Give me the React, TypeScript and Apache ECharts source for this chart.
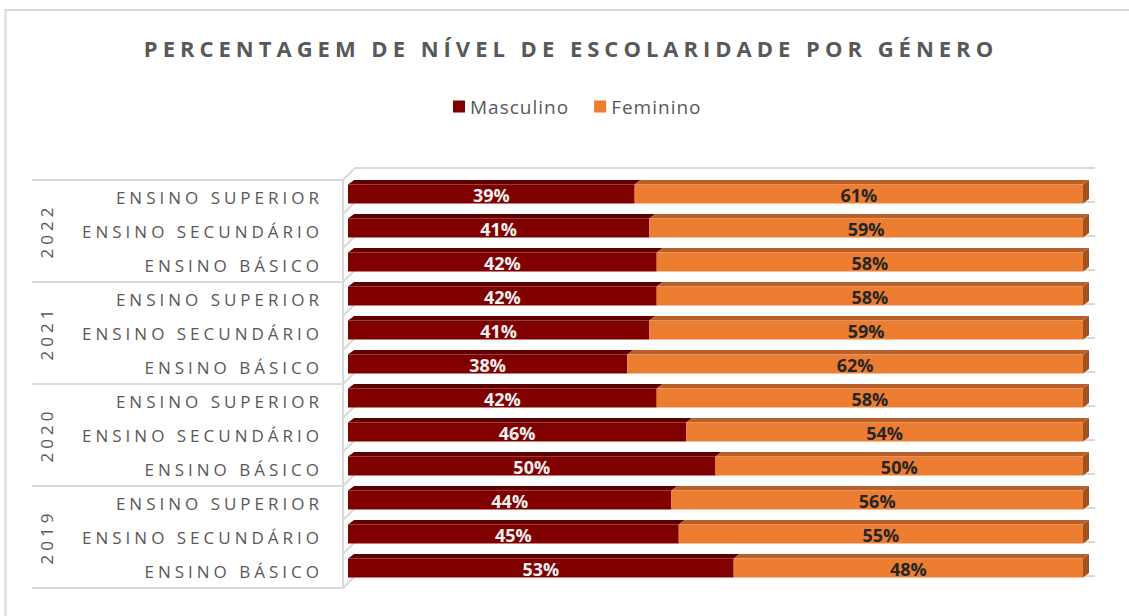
import React, { useEffect, useRef } from 'react';
import * as echarts from 'echarts';

const titleText = 'PERCENTAGEM DE NÍVEL DE ESCOLARIDADE POR GÉNERO';
const years = ['2022', '2021', '2020', '2019'];
const levels = ['ENSINO SUPERIOR', 'ENSINO SECUNDÁRIO', 'ENSINO BÁSICO'];
const seriesNames = ['Masculino', 'Feminino'];
const masculino = [39, 41, 42, 42, 41, 38, 42, 46, 50, 44, 45, 53];
const feminino = [61, 59, 58, 58, 59, 62, 58, 54, 50, 56, 55, 48];

const categories = years.flatMap((y) => levels.map((l) => `${y} ${l}`));

const FONT = "'Open Sans', 'Noto Sans', sans-serif";
const GRID = '#d9d9d9';
const TEXT = '#595959';

const css = `
#chart-root text[style*="17px"] { letter-spacing: 4px; }
#chart-root text[style*="22px"] { letter-spacing: 5px; }
#chart-root text[style*="19px"] { letter-spacing: 1px; }
`;

function makeBarRender(front: string, top: string, side: string, labelColor: string, withSide: boolean) {
  return (_params: any, api: any) => {
    const start = api.value(0);
    const cat = api.value(1);
    const end = api.value(2);
    const raw = api.value(3);
    const p0 = api.coord([start, cat]);
    const p1 = api.coord([end, cat]);
    const band = api.size([0, 1])[1];
    const bandTop = p0[1] - band / 2;
    const ft = bandTop + band * 0.13;
    const h = band * 0.56;
    const dx = 6;
    const dy = 4.5;
    const x0 = p0[0];
    const x1 = p1[0];
    const children: any[] = [
      {
        type: 'polygon',
        shape: { points: [[x0, ft], [x1, ft], [x1 + dx, ft - dy], [x0 + dx, ft - dy]] },
        style: { fill: top },
      },
      { type: 'rect', shape: { x: x0, y: ft, width: x1 - x0, height: h }, style: { fill: front } },
    ];
    if (withSide) {
      children.push({
        type: 'polygon',
        shape: { points: [[x1, ft], [x1 + dx, ft - dy], [x1 + dx, ft + h - dy], [x1, ft + h]] },
        style: { fill: side },
      });
    }
    children.push({
      type: 'text',
      x: (x0 + x1) / 2,
      y: ft + h / 2 + 1,
      style: {
        text: `${raw}%`,
        fill: labelColor,
        fontSize: 18,
        fontWeight: 'bold',
        fontFamily: FONT,
        align: 'center',
        verticalAlign: 'middle',
        textAlign: 'center',
        textVerticalAlign: 'middle',
      },
    });
    return { type: 'group', children };
  };
}

function frameRender(_params: any, api: any) {
  const i = api.value(1);
  const p = api.coord([0, i]);
  const right = api.coord([100, i])[0];
  const band = api.size([0, 1])[1];
  const left = p[0];
  const top = p[1] - band / 2;
  const bottom = p[1] + band / 2;
  const axX = left - 5;
  const d = 12;
  const ls = { stroke: GRID, lineWidth: 2, fill: null };
  const ch: any[] = [];
  const boundary = (y: number) => {
    ch.push({ type: 'line', shape: { x1: axX, y1: y, x2: axX + d, y2: y - d }, style: ls });
    ch.push({ type: 'line', shape: { x1: axX + d, y1: y - d, x2: right + 12, y2: y - d }, style: ls });
  };
  boundary(top);
  if (i === categories.length - 1) boundary(bottom);
  ch.push({ type: 'line', shape: { x1: axX, y1: top, x2: axX, y2: bottom }, style: ls });
  if (i % levels.length === 0) {
    ch.push({ type: 'line', shape: { x1: left - 316, y1: top, x2: axX, y2: top }, style: ls });
  }
  if (i === categories.length - 1) {
    ch.push({ type: 'line', shape: { x1: left - 316, y1: bottom, x2: axX, y2: bottom }, style: ls });
  }
  if (i % levels.length === 1) {
    ch.push({
      type: 'text',
      x: left - 302,
      y: p[1],
      rotation: Math.PI / 2,
      style: {
        text: years[Math.floor(i / levels.length)],
        fill: TEXT,
        fontSize: 17,
        fontFamily: FONT,
        align: 'center',
        verticalAlign: 'middle',
        textAlign: 'center',
        textVerticalAlign: 'middle',
      },
    });
  }
  return { type: 'group', children: ch };
}

export default function App() {
  const ref = useRef<HTMLDivElement>(null);
  useEffect(() => {
    if (!ref.current) return;
    const chart = echarts.init(ref.current, undefined, { renderer: 'svg' });
    const mascData = masculino.map((m, i) => {
      const pct = (m / (m + feminino[i])) * 100;
      return [0, i, pct, m];
    });
    const femData = feminino.map((f, i) => {
      const pct = (masculino[i] / (masculino[i] + f)) * 100;
      return [pct, i, 100, f];
    });
    chart.setOption({
      animation: false,
      backgroundColor: '#ffffff',
      textStyle: { fontFamily: FONT },
      graphic: [
        {
          type: 'rect',
          shape: { x: 5.5, y: 10, width: 1200, height: 700 },
          style: { fill: null, stroke: GRID, lineWidth: 2 },
          silent: true,
        },
        {
          type: 'text',
          x: 571,
          y: 48,
          style: {
            text: titleText,
            fill: TEXT,
            fontSize: 22,
            fontWeight: 'bold',
            fontFamily: FONT,
            align: 'center',
            verticalAlign: 'middle',
            textAlign: 'center',
            textVerticalAlign: 'middle',
          },
        },
      ],
      legend: {
        data: seriesNames,
        left: 448,
        top: 92,
        icon: 'rect',
        itemWidth: 12,
        itemHeight: 12,
        itemGap: 34,
        textStyle: { fontSize: 19, color: TEXT, fontFamily: FONT },
      },
      grid: { left: 348, right: 46, top: 180, bottom: 28 },
      xAxis: { type: 'value', min: 0, max: 100, show: false },
      yAxis: {
        type: 'category',
        data: categories,
        inverse: true,
        axisLine: { show: false },
        axisTick: { show: false },
        splitLine: { show: false },
        axisLabel: {
          interval: 0,
          margin: 25,
          fontSize: 17,
          color: TEXT,
          fontFamily: FONT,
          formatter: (_v: string, idx: number) => levels[idx % levels.length],
        },
      },
      series: [
        {
          type: 'custom',
          name: 'frame',
          data: categories.map((_c, i) => [0, i]),
          encode: { x: 0, y: 1 },
          renderItem: frameRender,
          silent: true,
          z: 1,
        },
        {
          type: 'custom',
          name: seriesNames[0],
          data: mascData,
          encode: { x: [0, 2], y: 1 },
          itemStyle: { color: '#800000' },
          renderItem: makeBarRender('#800000', '#5e0000', '#5e0000', '#f2f2f2', false),
          z: 2,
        },
        {
          type: 'custom',
          name: seriesNames[1],
          data: femData,
          encode: { x: [0, 2], y: 1 },
          itemStyle: { color: '#ED7D31' },
          renderItem: makeBarRender('#ED7D31', '#b85f2a', '#a3521f', '#262626', true),
          z: 2,
        },
      ],
    });
    return () => chart.dispose();
  }, []);
  return (
    <>
      <style>{css}</style>
      <div
        id="chart-root"
        ref={ref}
        style={{ position: 'absolute', left: 0, top: 0, width: 1129, height: 616 }}
      />
    </>
  );
}
